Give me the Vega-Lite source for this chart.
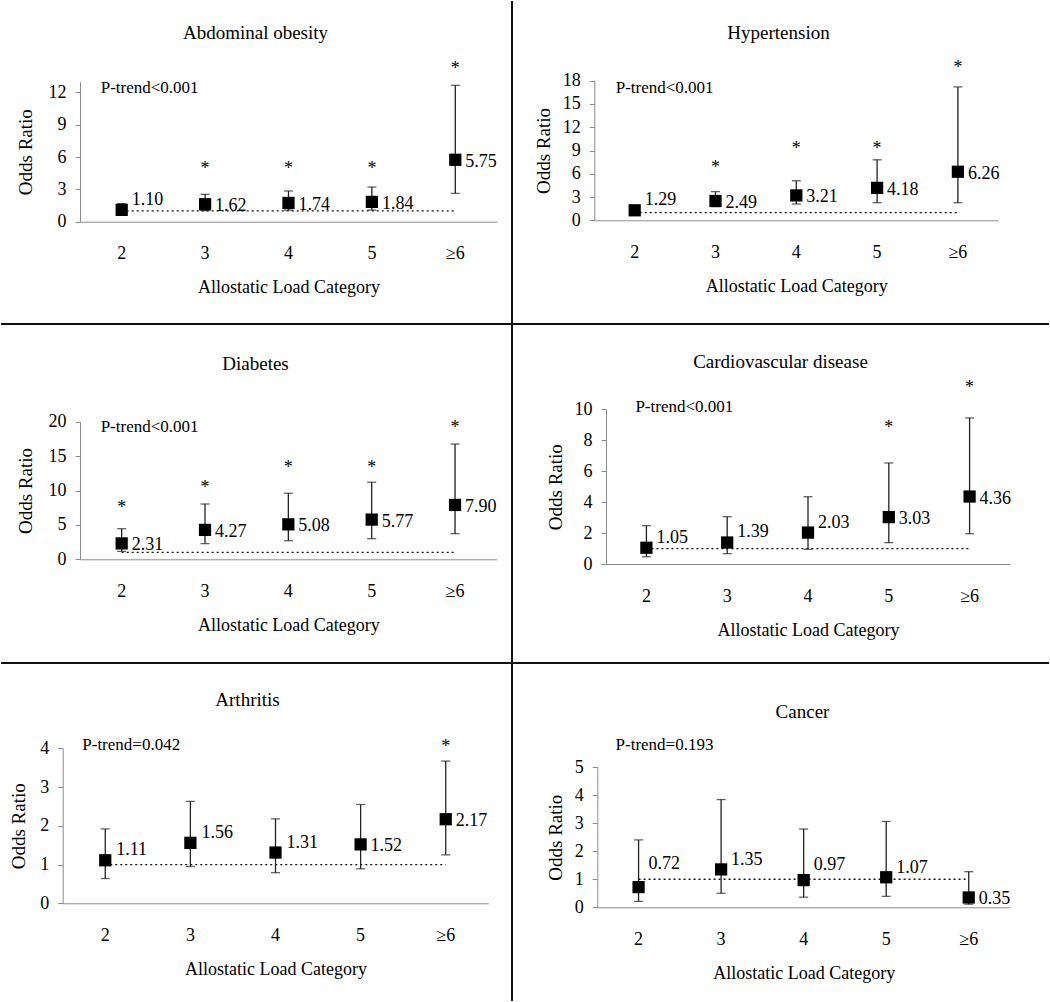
{
  "$schema": "https://vega.github.io/schema/vega-lite/v6.json",
  "padding": 0,
  "spacing": 0,
  "bounds": "flush",
  "columns": 2,
  "datasets": {
    "or": [
      {"panel": "Abdominal obesity", "cat": "2", "or": 1.10, "lo": 0.72, "hi": 1.68},
      {"panel": "Abdominal obesity", "cat": "3", "or": 1.62, "lo": 1.03, "hi": 2.54},
      {"panel": "Abdominal obesity", "cat": "4", "or": 1.74, "lo": 1.07, "hi": 2.85},
      {"panel": "Abdominal obesity", "cat": "5", "or": 1.84, "lo": 1.08, "hi": 3.22},
      {"panel": "Abdominal obesity", "cat": "≥6", "or": 5.75, "lo": 2.63, "hi": 12.66},
      {"panel": "Hypertension", "cat": "2", "or": 1.29, "lo": 0.95, "hi": 1.75},
      {"panel": "Hypertension", "cat": "3", "or": 2.49, "lo": 1.77, "hi": 3.70},
      {"panel": "Hypertension", "cat": "4", "or": 3.21, "lo": 2.10, "hi": 5.10},
      {"panel": "Hypertension", "cat": "5", "or": 4.18, "lo": 2.27, "hi": 7.80},
      {"panel": "Hypertension", "cat": "≥6", "or": 6.26, "lo": 2.27, "hi": 17.20},
      {"panel": "Diabetes", "cat": "2", "or": 2.31, "lo": 1.15, "hi": 4.45},
      {"panel": "Diabetes", "cat": "3", "or": 4.27, "lo": 2.28, "hi": 8.04},
      {"panel": "Diabetes", "cat": "4", "or": 5.08, "lo": 2.70, "hi": 9.60},
      {"panel": "Diabetes", "cat": "5", "or": 5.77, "lo": 3.00, "hi": 11.20},
      {"panel": "Diabetes", "cat": "≥6", "or": 7.90, "lo": 3.73, "hi": 16.75},
      {"panel": "Cardiovascular disease", "cat": "2", "or": 1.05, "lo": 0.47, "hi": 2.48},
      {"panel": "Cardiovascular disease", "cat": "3", "or": 1.39, "lo": 0.67, "hi": 3.06},
      {"panel": "Cardiovascular disease", "cat": "4", "or": 2.03, "lo": 0.95, "hi": 4.35},
      {"panel": "Cardiovascular disease", "cat": "5", "or": 3.03, "lo": 1.38, "hi": 6.53},
      {"panel": "Cardiovascular disease", "cat": "≥6", "or": 4.36, "lo": 1.96, "hi": 9.44},
      {"panel": "Arthritis", "cat": "2", "or": 1.11, "lo": 0.64, "hi": 1.92},
      {"panel": "Arthritis", "cat": "3", "or": 1.56, "lo": 0.95, "hi": 2.63},
      {"panel": "Arthritis", "cat": "4", "or": 1.31, "lo": 0.79, "hi": 2.18},
      {"panel": "Arthritis", "cat": "5", "or": 1.52, "lo": 0.89, "hi": 2.55},
      {"panel": "Arthritis", "cat": "≥6", "or": 2.17, "lo": 1.25, "hi": 3.67},
      {"panel": "Cancer", "cat": "2", "or": 0.72, "lo": 0.21, "hi": 2.40},
      {"panel": "Cancer", "cat": "3", "or": 1.35, "lo": 0.50, "hi": 3.84},
      {"panel": "Cancer", "cat": "4", "or": 0.97, "lo": 0.36, "hi": 2.79},
      {"panel": "Cancer", "cat": "5", "or": 1.07, "lo": 0.39, "hi": 3.06},
      {"panel": "Cancer", "cat": "≥6", "or": 0.35, "lo": 0.11, "hi": 1.27}
    ],
    "stars": [
      {"panel": "Abdominal obesity", "cat": "3", "at": 5.27},
      {"panel": "Abdominal obesity", "cat": "4", "at": 5.27},
      {"panel": "Abdominal obesity", "cat": "5", "at": 5.27},
      {"panel": "Abdominal obesity", "cat": "≥6", "at": 14.55},
      {"panel": "Hypertension", "cat": "3", "at": 7.23},
      {"panel": "Hypertension", "cat": "4", "at": 9.72},
      {"panel": "Hypertension", "cat": "5", "at": 9.72},
      {"panel": "Hypertension", "cat": "≥6", "at": 20.2},
      {"panel": "Diabetes", "cat": "2", "at": 8.04},
      {"panel": "Diabetes", "cat": "3", "at": 11.0},
      {"panel": "Diabetes", "cat": "4", "at": 13.85},
      {"panel": "Diabetes", "cat": "5", "at": 13.85},
      {"panel": "Diabetes", "cat": "≥6", "at": 19.6},
      {"panel": "Cardiovascular disease", "cat": "5", "at": 9.03},
      {"panel": "Cardiovascular disease", "cat": "≥6", "at": 11.64},
      {"panel": "Arthritis", "cat": "≥6", "at": 4.13}
    ],
    "trend": [
      {"panel": "Abdominal obesity", "cat": "2", "ref": 1, "ptrend": "P-trend<0.001", "pt_at": 12.4},
      {"panel": "Hypertension", "cat": "2", "ref": 1, "ptrend": "P-trend<0.001", "pt_at": 17.1},
      {"panel": "Diabetes", "cat": "2", "ref": 1, "ptrend": "P-trend<0.001", "pt_at": 19.2},
      {"panel": "Cardiovascular disease", "cat": "2", "ref": 1, "ptrend": "P-trend<0.001", "pt_at": 10.15},
      {"panel": "Arthritis", "cat": "2", "ref": 1, "ptrend": "P-trend=0.042", "pt_at": 4.09},
      {"panel": "Cancer", "cat": "2", "ref": 1, "ptrend": "P-trend=0.193", "pt_at": 5.78}
    ]
  },
  "concat": [
    {
      "width": 511, "height": 323,
      "view": {"stroke": "#111111", "strokeWidth": 2, "strokeDash": [0, 511, 834, 323]},
      "title": {"text": "Abdominal obesity", "offset": -42, "dx": -1},
      "data": {"name": "or"},
      "transform": [{"filter": "datum.panel === 'Abdominal obesity'"}],
      "encoding": {
        "x": {"field": "cat", "type": "nominal", "title": "Allostatic Load Category",
          "scale": {"type": "band", "domain": ["2", "3", "4", "5", "≥6"], "range": [79, 496], "paddingInner": 0, "paddingOuter": 0},
          "axis": {"offset": -102.3}},
        "y": {"field": "or", "type": "quantitative", "title": "Odds Ratio",
          "scale": {"domain": [0, 13], "range": [220.7, 80.7], "nice": false},
          "axis": {"offset": -79, "values": [0, 3, 6, 9, 12], "titleX": -55}}
      },
      "layer": [
        {"data": {"name": "trend"}, "transform": [{"filter": "datum.panel === 'Abdominal obesity'"}], "mark": {"type": "rule", "strokeDash": [2, 3], "strokeWidth": 1.3, "color": "#111111"},
         "encoding": {"x": {"datum": "2", "bandPosition": 0.5}, "x2": {"datum": "≥6", "bandPosition": 0.5}, "y": {"field": "ref", "type": "quantitative"}}},
        {"mark": {"type": "rule", "strokeWidth": 1.3, "color": "#222222"}, "encoding": {"y": {"field": "lo", "type": "quantitative"}, "y2": {"field": "hi"}}},
        {"transform": [{"fold": ["lo", "hi"], "as": ["end", "val"]}], "mark": {"type": "tick", "size": 9, "thickness": 1.3, "color": "#222222"}, "encoding": {"y": {"field": "val", "type": "quantitative"}}},
        {"mark": {"type": "point", "shape": "square", "filled": true, "size": 150, "color": "#000000", "opacity": 1}},
        {"transform": [{"filter": "datum.cat !== '2'"}], "mark": {"type": "text", "align": "left", "baseline": "middle", "dx": 10, "dy": 2}, "encoding": {"text": {"field": "or", "format": ".2f"}}},
        {"transform": [{"filter": "datum.cat === '2'"}], "mark": {"type": "text", "align": "left", "baseline": "middle", "dx": 10, "dy": -10}, "encoding": {"text": {"field": "or", "format": ".2f"}}},
        {"data": {"name": "stars"}, "transform": [{"filter": "datum.panel === 'Abdominal obesity'"}], "mark": {"type": "text", "text": "*", "baseline": "middle", "dy": 4}, "encoding": {"y": {"field": "at", "type": "quantitative"}}},
        {"data": {"name": "trend"}, "transform": [{"filter": "datum.panel === 'Abdominal obesity'"}], "mark": {"type": "text", "align": "left", "baseline": "middle", "dx": -21, "fontSize": 17}, "encoding": {"text": {"field": "ptrend"}, "y": {"field": "pt_at", "type": "quantitative"}}}
      ]
    },
    {
      "width": 537, "height": 323,
      "view": {"stroke": "#111111", "strokeWidth": 2, "strokeDash": [0, 860, 537, 323]},
      "title": {"text": "Hypertension", "offset": -42, "dx": -2},
      "data": {"name": "or"},
      "transform": [{"filter": "datum.panel === 'Hypertension'"}],
      "encoding": {
        "x": {"field": "cat", "type": "nominal", "title": "Allostatic Load Category",
          "scale": {"type": "band", "domain": ["2", "3", "4", "5", "≥6"], "range": [82.3, 486.3], "paddingInner": 0, "paddingOuter": 0},
          "axis": {"offset": -103.7}},
        "y": {"field": "or", "type": "quantitative", "title": "Odds Ratio",
          "scale": {"domain": [0, 18], "range": [219.3, 79.7], "nice": false},
          "axis": {"offset": -82.3, "values": [0, 3, 6, 9, 12, 15, 18], "titleX": -51}}
      },
      "layer": [
        {"data": {"name": "trend"}, "transform": [{"filter": "datum.panel === 'Hypertension'"}], "mark": {"type": "rule", "strokeDash": [2, 3], "strokeWidth": 1.3, "color": "#111111"},
         "encoding": {"x": {"datum": "2", "bandPosition": 0.5}, "x2": {"datum": "≥6", "bandPosition": 0.5}, "y": {"field": "ref", "type": "quantitative"}}},
        {"mark": {"type": "rule", "strokeWidth": 1.3, "color": "#222222"}, "encoding": {"y": {"field": "lo", "type": "quantitative"}, "y2": {"field": "hi"}}},
        {"transform": [{"fold": ["lo", "hi"], "as": ["end", "val"]}], "mark": {"type": "tick", "size": 9, "thickness": 1.3, "color": "#222222"}, "encoding": {"y": {"field": "val", "type": "quantitative"}}},
        {"mark": {"type": "point", "shape": "square", "filled": true, "size": 150, "color": "#000000", "opacity": 1}},
        {"transform": [{"filter": "datum.cat !== '2'"}], "mark": {"type": "text", "align": "left", "baseline": "middle", "dx": 10, "dy": 2}, "encoding": {"text": {"field": "or", "format": ".2f"}}},
        {"transform": [{"filter": "datum.cat === '2'"}], "mark": {"type": "text", "align": "left", "baseline": "middle", "dx": 10, "dy": -10}, "encoding": {"text": {"field": "or", "format": ".2f"}}},
        {"data": {"name": "stars"}, "transform": [{"filter": "datum.panel === 'Hypertension'"}], "mark": {"type": "text", "text": "*", "baseline": "middle", "dy": 4}, "encoding": {"y": {"field": "at", "type": "quantitative"}}},
        {"data": {"name": "trend"}, "transform": [{"filter": "datum.panel === 'Hypertension'"}], "mark": {"type": "text", "align": "left", "baseline": "middle", "dx": -19, "fontSize": 17}, "encoding": {"text": {"field": "ptrend"}, "y": {"field": "pt_at", "type": "quantitative"}}}
      ]
    },
    {
      "width": 511, "height": 339,
      "view": {"stroke": "#111111", "strokeWidth": 2, "strokeDash": [0, 511, 850, 339]},
      "title": {"text": "Diabetes", "offset": -50, "dx": -1},
      "data": {"name": "or"},
      "transform": [{"filter": "datum.panel === 'Diabetes'"}],
      "encoding": {
        "x": {"field": "cat", "type": "nominal", "title": "Allostatic Load Category",
          "scale": {"type": "band", "domain": ["2", "3", "4", "5", "≥6"], "range": [79, 495.7], "paddingInner": 0, "paddingOuter": 0},
          "axis": {"offset": -103.7}},
        "y": {"field": "or", "type": "quantitative", "title": "Odds Ratio",
          "scale": {"domain": [0, 20], "range": [235.3, 97.7], "nice": false},
          "axis": {"offset": -79, "values": [0, 5, 10, 15, 20], "titleX": -55}}
      },
      "layer": [
        {"data": {"name": "trend"}, "transform": [{"filter": "datum.panel === 'Diabetes'"}], "mark": {"type": "rule", "strokeDash": [2, 3], "strokeWidth": 1.3, "color": "#111111"},
         "encoding": {"x": {"datum": "2", "bandPosition": 0.5}, "x2": {"datum": "≥6", "bandPosition": 0.5}, "y": {"field": "ref", "type": "quantitative"}}},
        {"mark": {"type": "rule", "strokeWidth": 1.3, "color": "#222222"}, "encoding": {"y": {"field": "lo", "type": "quantitative"}, "y2": {"field": "hi"}}},
        {"transform": [{"fold": ["lo", "hi"], "as": ["end", "val"]}], "mark": {"type": "tick", "size": 9, "thickness": 1.3, "color": "#222222"}, "encoding": {"y": {"field": "val", "type": "quantitative"}}},
        {"mark": {"type": "point", "shape": "square", "filled": true, "size": 150, "color": "#000000", "opacity": 1}},
        {"mark": {"type": "text", "align": "left", "baseline": "middle", "dx": 10, "dy": 2}, "encoding": {"text": {"field": "or", "format": ".2f"}}},
        {"data": {"name": "stars"}, "transform": [{"filter": "datum.panel === 'Diabetes'"}], "mark": {"type": "text", "text": "*", "baseline": "middle", "dy": 4}, "encoding": {"y": {"field": "at", "type": "quantitative"}}},
        {"data": {"name": "trend"}, "transform": [{"filter": "datum.panel === 'Diabetes'"}], "mark": {"type": "text", "align": "left", "baseline": "middle", "dx": -21, "fontSize": 17}, "encoding": {"text": {"field": "ptrend"}, "y": {"field": "pt_at", "type": "quantitative"}}}
      ]
    },
    {
      "width": 537, "height": 339,
      "view": {"stroke": "#111111", "strokeWidth": 2, "strokeDash": [0, 876, 537, 339]},
      "title": {"text": "Cardiovascular disease", "offset": -48, "dx": 0},
      "data": {"name": "or"},
      "transform": [{"filter": "datum.panel === 'Cardiovascular disease'"}],
      "encoding": {
        "x": {"field": "cat", "type": "nominal", "title": "Allostatic Load Category",
          "scale": {"type": "band", "domain": ["2", "3", "4", "5", "≥6"], "range": [94, 498], "paddingInner": 0, "paddingOuter": 0},
          "axis": {"offset": -99}},
        "y": {"field": "or", "type": "quantitative", "title": "Odds Ratio",
          "scale": {"domain": [0, 10], "range": [240, 85.3], "nice": false},
          "axis": {"offset": -94, "values": [0, 2, 4, 6, 8, 10], "titleX": -51}}
      },
      "layer": [
        {"data": {"name": "trend"}, "transform": [{"filter": "datum.panel === 'Cardiovascular disease'"}], "mark": {"type": "rule", "strokeDash": [2, 3], "strokeWidth": 1.3, "color": "#111111"},
         "encoding": {"x": {"datum": "2", "bandPosition": 0.5}, "x2": {"datum": "≥6", "bandPosition": 0.5}, "y": {"field": "ref", "type": "quantitative"}}},
        {"mark": {"type": "rule", "strokeWidth": 1.3, "color": "#222222"}, "encoding": {"y": {"field": "lo", "type": "quantitative"}, "y2": {"field": "hi"}}},
        {"transform": [{"fold": ["lo", "hi"], "as": ["end", "val"]}], "mark": {"type": "tick", "size": 9, "thickness": 1.3, "color": "#222222"}, "encoding": {"y": {"field": "val", "type": "quantitative"}}},
        {"mark": {"type": "point", "shape": "square", "filled": true, "size": 150, "color": "#000000", "opacity": 1}},
        {"transform": [{"filter": "datum.cat === '5' || datum.cat === '≥6'"}], "mark": {"type": "text", "align": "left", "baseline": "middle", "dx": 10, "dy": 2}, "encoding": {"text": {"field": "or", "format": ".2f"}}},
        {"transform": [{"filter": "datum.cat === '2' || datum.cat === '3' || datum.cat === '4'"}], "mark": {"type": "text", "align": "left", "baseline": "middle", "dx": 10, "dy": -10}, "encoding": {"text": {"field": "or", "format": ".2f"}}},
        {"data": {"name": "stars"}, "transform": [{"filter": "datum.panel === 'Cardiovascular disease'"}], "mark": {"type": "text", "text": "*", "baseline": "middle", "dy": 4}, "encoding": {"y": {"field": "at", "type": "quantitative"}}},
        {"data": {"name": "trend"}, "transform": [{"filter": "datum.panel === 'Cardiovascular disease'"}], "mark": {"type": "text", "align": "left", "baseline": "middle", "dx": -11, "fontSize": 17}, "encoding": {"text": {"field": "ptrend"}, "y": {"field": "pt_at", "type": "quantitative"}}}
      ]
    },
    {
      "width": 511, "height": 338,
      "view": {"stroke": "#111111", "strokeWidth": 2, "strokeDash": [0, 511, 338, 849]},
      "title": {"text": "Arthritis", "offset": -47, "dx": -9},
      "data": {"name": "or"},
      "transform": [{"filter": "datum.panel === 'Arthritis'"}],
      "encoding": {
        "x": {"field": "cat", "type": "nominal", "title": "Allostatic Load Category",
          "scale": {"type": "band", "domain": ["2", "3", "4", "5", "≥6"], "range": [61.7, 487.3], "paddingInner": 0, "paddingOuter": 0},
          "axis": {"offset": -97.7}},
        "y": {"field": "or", "type": "quantitative", "title": "Odds Ratio",
          "scale": {"domain": [0, 4], "range": [240.3, 85.3], "nice": false},
          "axis": {"offset": -61.7, "values": [0, 1, 2, 3, 4], "titleX": -44}}
      },
      "layer": [
        {"data": {"name": "trend"}, "transform": [{"filter": "datum.panel === 'Arthritis'"}], "mark": {"type": "rule", "strokeDash": [2, 3], "strokeWidth": 1.3, "color": "#111111"},
         "encoding": {"x": {"datum": "2", "bandPosition": 0.5}, "x2": {"datum": "≥6", "bandPosition": 0.5}, "y": {"field": "ref", "type": "quantitative"}}},
        {"mark": {"type": "rule", "strokeWidth": 1.3, "color": "#222222"}, "encoding": {"y": {"field": "lo", "type": "quantitative"}, "y2": {"field": "hi"}}},
        {"transform": [{"fold": ["lo", "hi"], "as": ["end", "val"]}], "mark": {"type": "tick", "size": 9, "thickness": 1.3, "color": "#222222"}, "encoding": {"y": {"field": "val", "type": "quantitative"}}},
        {"mark": {"type": "point", "shape": "square", "filled": true, "size": 150, "color": "#000000", "opacity": 1}},
        {"transform": [{"filter": "datum.cat === '5' || datum.cat === '≥6'"}], "mark": {"type": "text", "align": "left", "baseline": "middle", "dx": 10, "dy": 2}, "encoding": {"text": {"field": "or", "format": ".2f"}}},
        {"transform": [{"filter": "datum.cat === '2' || datum.cat === '3' || datum.cat === '4'"}], "mark": {"type": "text", "align": "left", "baseline": "middle", "dx": 11, "dy": -10}, "encoding": {"text": {"field": "or", "format": ".2f"}}},
        {"data": {"name": "stars"}, "transform": [{"filter": "datum.panel === 'Arthritis'"}], "mark": {"type": "text", "text": "*", "baseline": "middle", "dy": 4}, "encoding": {"y": {"field": "at", "type": "quantitative"}}},
        {"data": {"name": "trend"}, "transform": [{"filter": "datum.panel === 'Arthritis'"}], "mark": {"type": "text", "align": "left", "baseline": "middle", "dx": -23, "fontSize": 17}, "encoding": {"text": {"field": "ptrend"}, "y": {"field": "pt_at", "type": "quantitative"}}}
      ]
    },
    {
      "width": 537, "height": 338,
      "view": {"stroke": null},
      "title": {"text": "Cancer", "offset": -59, "dx": 22},
      "data": {"name": "or"},
      "transform": [{"filter": "datum.panel === 'Cancer'"}],
      "encoding": {
        "x": {"field": "cat", "type": "nominal", "title": "Allostatic Load Category",
          "scale": {"type": "band", "domain": ["2", "3", "4", "5", "≥6"], "range": [85.3, 498], "paddingInner": 0, "paddingOuter": 0},
          "axis": {"offset": -93.7}},
        "y": {"field": "or", "type": "quantitative", "title": "Odds Ratio",
          "scale": {"domain": [0, 5], "range": [244.3, 104], "nice": false},
          "axis": {"offset": -85.3, "values": [0, 1, 2, 3, 4, 5], "titleX": -42}}
      },
      "layer": [
        {"data": {"name": "trend"}, "transform": [{"filter": "datum.panel === 'Cancer'"}], "mark": {"type": "rule", "strokeDash": [2, 3], "strokeWidth": 1.3, "color": "#111111"},
         "encoding": {"x": {"datum": "2", "bandPosition": 0.5}, "x2": {"datum": "≥6", "bandPosition": 0.5}, "y": {"field": "ref", "type": "quantitative"}}},
        {"mark": {"type": "rule", "strokeWidth": 1.3, "color": "#222222"}, "encoding": {"y": {"field": "lo", "type": "quantitative"}, "y2": {"field": "hi"}}},
        {"transform": [{"fold": ["lo", "hi"], "as": ["end", "val"]}], "mark": {"type": "tick", "size": 9, "thickness": 1.3, "color": "#222222"}, "encoding": {"y": {"field": "val", "type": "quantitative"}}},
        {"mark": {"type": "point", "shape": "square", "filled": true, "size": 150, "color": "#000000", "opacity": 1}},
        {"transform": [{"filter": "datum.cat === '≥6'"}], "mark": {"type": "text", "align": "left", "baseline": "middle", "dx": 10, "dy": 2}, "encoding": {"text": {"field": "or", "format": ".2f"}}},
        {"transform": [{"filter": "datum.cat === '3' || datum.cat === '5'"}], "mark": {"type": "text", "align": "left", "baseline": "middle", "dx": 10, "dy": -9}, "encoding": {"text": {"field": "or", "format": ".2f"}}},
        {"transform": [{"filter": "datum.cat === '4'"}], "mark": {"type": "text", "align": "left", "baseline": "middle", "dx": 10, "dy": -15}, "encoding": {"text": {"field": "or", "format": ".2f"}}},
        {"transform": [{"filter": "datum.cat === '2'"}], "mark": {"type": "text", "align": "left", "baseline": "middle", "dx": 10, "dy": -23}, "encoding": {"text": {"field": "or", "format": ".2f"}}},
        {"data": {"name": "trend"}, "transform": [{"filter": "datum.panel === 'Cancer'"}], "mark": {"type": "text", "align": "left", "baseline": "middle", "dx": -23, "fontSize": 17}, "encoding": {"text": {"field": "ptrend"}, "y": {"field": "pt_at", "type": "quantitative"}}}
      ]
    }
  ],
  "config": {
    "font": "Liberation Serif",
    "background": "white",
    "view": {"stroke": null},
    "concat": {"spacing": 0},
    "axis": {
      "labelFont": "Liberation Serif", "titleFont": "Liberation Serif",
      "labelFontSize": 18, "titleFontSize": 19, "titleFontWeight": "normal",
      "labelColor": "#000000", "titleColor": "#000000",
      "domainColor": "#8c8c8c", "tickColor": "#8c8c8c", "domainWidth": 1, "tickWidth": 1,
      "grid": false
    },
    "axisX": {"ticks": false, "labelAngle": 0, "labelPadding": 32, "labelBaseline": "middle", "titleY": 66, "titleBaseline": "middle", "titleFontSize": 18},
    "axisY": {"tickSize": 5, "labelPadding": 9, "titleBaseline": "middle", "titleAngle": -90},
    "title": {"font": "Liberation Serif", "fontSize": 19, "fontWeight": "normal", "color": "#000000", "baseline": "middle", "anchor": "middle", "frame": "group"},
    "text": {"font": "Liberation Serif", "fontSize": 18, "color": "#000000"}
  }
}
